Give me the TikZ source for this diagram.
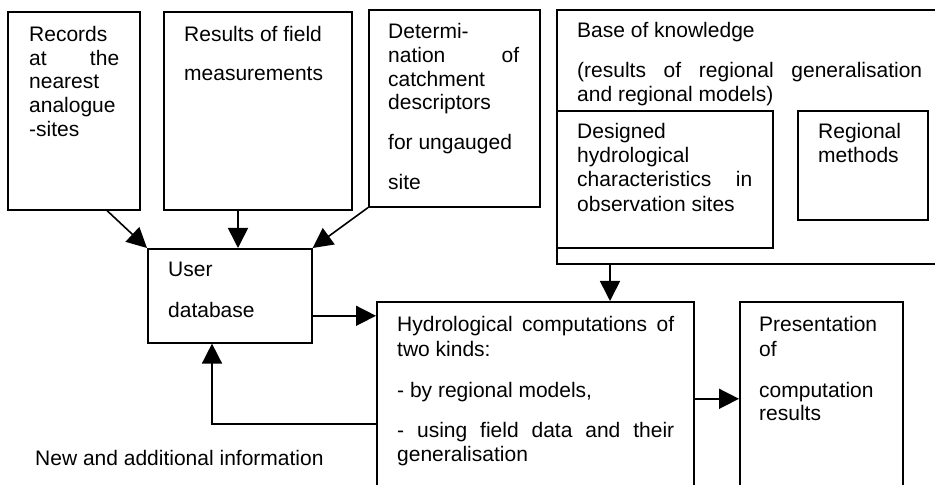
\documentclass[tikz,border=0pt]{standalone}
\usepackage{fontspec}
\setmainfont{Liberation Sans}
\usetikzlibrary{arrows.meta,calc}
\tikzset{
  box/.style={draw, line width=1.6bp, inner sep=0pt, anchor=north west},
  txt/.style={anchor=base west, inner sep=0pt, font=\fontsize{21bp}{24bp}\selectfont},
  arr/.style={line width=1.6bp, -{Triangle[length=20bp,width=20bp]}}
}
\begin{document}
\begin{tikzpicture}[x=1bp,y=-1bp]
\useasboundingbox (0,0) rectangle (935,485);
\clip (0,0) rectangle (935,485);
% boxes
\node[box, minimum width=132bp, minimum height=198bp] (rec) at (7,11) {};
\node[box, minimum width=188bp, minimum height=198bp] (res) at (163,11) {};
\node[box, minimum width=171bp, minimum height=197bp] (det) at (368,9) {};
\node[box, minimum width=394bp, minimum height=254bp] (base) at (556,9) {};
\node[box, minimum width=216bp, minimum height=137bp] (des) at (556,110) {};
\node[box, minimum width=130bp, minimum height=109bp] (reg) at (797,110) {};
\node[box, minimum width=164bp, minimum height=94bp] (db) at (147,248) {};
\node[box, minimum width=317bp, minimum height=194bp] (hyd) at (376,301) {};
\node[box, minimum width=163bp, minimum height=194bp] (pres) at (739,301) {};
% texts
\node[txt] (r1) at (29,42) {Records};
\node[txt] (r2) at (29,66) {\makebox[90bp][s]{at the}};
\node[txt] (r3) at (29,89) {nearest};
\node[txt] (r4) at (29,113) {analogue};
\node[txt] (r5) at (29,137) {-sites};
\node[txt] (s1) at (184,42) {Results of field};
\node[txt] (s2) at (184,81) {measurements};
\node[txt] (d1) at (388,39) {Determi-};
\node[txt] (d2) at (388,63) {\makebox[131bp][s]{nation of}};
\node[txt] (d3) at (388,87) {catchment};
\node[txt] (d4) at (388,110) {descriptors};
\node[txt] (d5) at (388,150) {for ungauged};
\node[txt] (d6) at (388,190) {site};
\node[txt] (b1) at (577,38) {Base of knowledge};
\node[txt] (b2) at (577,78) {\makebox[345bp][s]{(results of regional generalisation}};
\node[txt] (b3) at (577,102) {and regional models)};
\node[txt] (e1) at (577,139) {Designed};
\node[txt] (e2) at (577,163) {hydrological};
\node[txt] (e3) at (577,187) {\makebox[175bp][s]{characteristics in}};
\node[txt] (e4) at (577,212) {observation sites};
\node[txt] (g1) at (818,139) {Regional};
\node[txt] (g2) at (818,163) {methods};
\node[txt] (u1) at (168,277) {User};
\node[txt] (u2) at (168,318) {database};
\node[txt] (h1) at (397,332) {\makebox[277bp][s]{Hydrological computations of}};
\node[txt] (h2) at (397,357) {two kinds:};
\node[txt] (h3) at (397,397) {- by regional models,};
\node[txt] (h4) at (397,437) {\makebox[277bp][s]{- using field data and their}};
\node[txt] (h5) at (397,461) {generalisation};
\node[txt] (p1) at (759,332) {Presentation};
\node[txt] (p2) at (759,357) {of};
\node[txt] (p3) at (759,397) {computation};
\node[txt] (p4) at (759,420) {results};
\node[txt] (lbl) at (35,465) {New and additional information};
% connectors
\draw[arr] ([xshift=100bp]rec.south west) -- (db.north west);
\draw[arr] ([xshift=75bp]res.south west) -- ([xshift=75bp]res.south west |- db.north);
\draw[arr] (det.south west) -- (db.north east);
\draw[arr] ([xshift=54bp]base.south west) -- ([xshift=54bp]base.south west |- hyd.north);
\draw[arr] ([yshift=-20bp]db.east) -- ([yshift=-20bp]db.east -| hyd.west);
\draw[arr] (hyd.east) -- (pres.west);
\draw[arr] ([yshift=-25bp]hyd.west) -| ([xshift=65bp]db.south west);
\end{tikzpicture}
\end{document}
